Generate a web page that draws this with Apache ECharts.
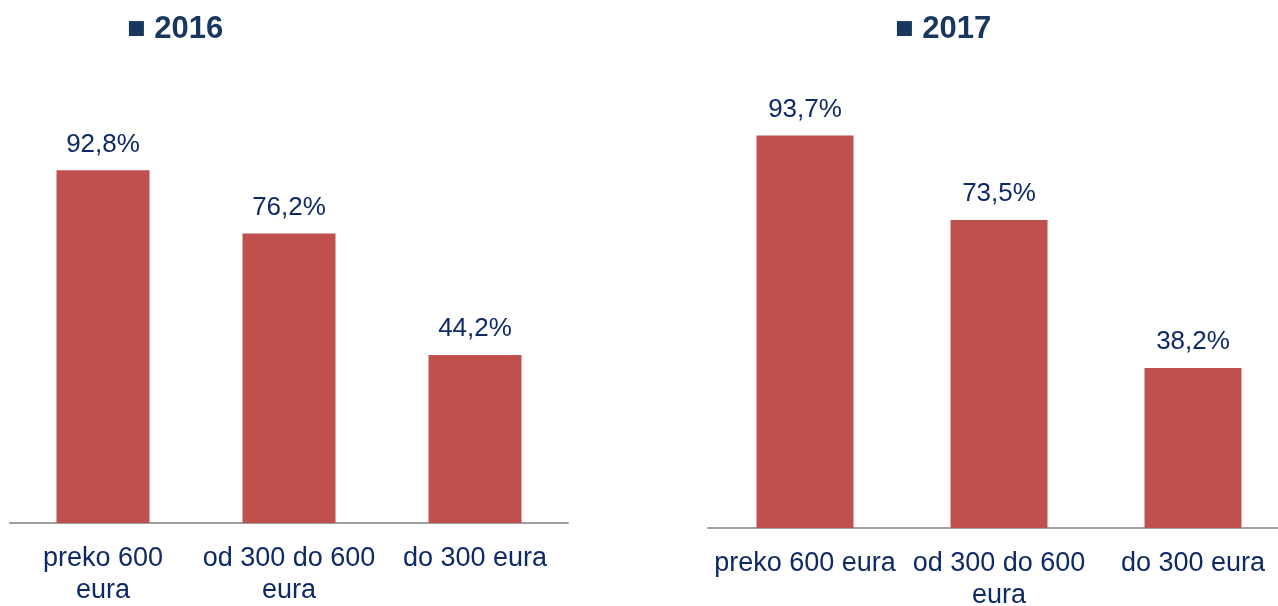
<!DOCTYPE html>
<html>
<head>
<meta charset="utf-8">
<script src="https://cdn.jsdelivr.net/npm/echarts@6/dist/echarts.min.js"></script>
<style>
	html, body { margin: 0; padding: 0; background: #fff; }
	#chart { width: 1278px; height: 606px; }
</style>
</head>
<body>
<div id="chart"></div>
<script>
var titles = ["■ 2016", "■ 2017"];
var categories2016 = ["preko 600\neura", "od 300 do 600\neura", "do 300 eura"];
var categories2017 = ["preko 600 eura", "od 300 do 600\neura", "do 300 eura"];
var values2016 = [92.8, 76.2, 44.2];
var values2017 = [93.7, 73.5, 38.2];

var textColor = "#0E2A66";
var barColor = "#C0504D";
var font = "Liberation Sans, Arial, sans-serif";

function fmt(v) {
	return v.toFixed(1).replace(".", ",") + "%";
}

function xAxisFor(cats, idx) {
	return {
		type: "category",
		gridIndex: idx,
		data: cats,
		axisLine: { lineStyle: { color: "#A0A0A0", width: 2 } },
		axisTick: { show: false },
		axisLabel: {
			color: textColor,
			fontSize: 27,
			lineHeight: 32,
			margin: 20,
			fontFamily: font,
			interval: 0
		}
	};
}

function yAxisFor(idx) {
	return {
		type: "value",
		gridIndex: idx,
		min: 0,
		max: 100,
		show: false,
		splitLine: { show: false }
	};
}

function seriesFor(vals, idx) {
	return {
		type: "bar",
		xAxisIndex: idx,
		yAxisIndex: idx,
		data: vals,
		barWidth: "50%",
		itemStyle: { color: barColor },
		label: {
			show: true,
			position: "top",
			distance: 13,
			color: textColor,
			fontSize: 26,
			fontFamily: font,
			formatter: function(p) { return fmt(p.value); }
		}
	};
}

var myChart = echarts.init(document.getElementById("chart"));
var option = {
	animation: false,
	title: [{
		text: titles[0],
		left: 122,
		top: 9,
		textStyle: { color: "#17375E", fontSize: 31, fontWeight: "bold", fontFamily: font }
	}, {
		text: titles[1],
		left: 890,
		top: 9,
		textStyle: { color: "#17375E", fontSize: 31, fontWeight: "bold", fontFamily: font }
	}],
	grid: [
		{ left: 10, width: 558, top: 143, height: 380, outerBoundsMode: "none" },
		{ left: 708, width: 582, top: 109, height: 419, outerBoundsMode: "none" }
	],
	xAxis: [xAxisFor(categories2016, 0), xAxisFor(categories2017, 1)],
	yAxis: [yAxisFor(0), yAxisFor(1)],
	series: [seriesFor(values2016, 0), seriesFor(values2017, 1)]
};
myChart.setOption(option);
</script>
</body>
</html>
